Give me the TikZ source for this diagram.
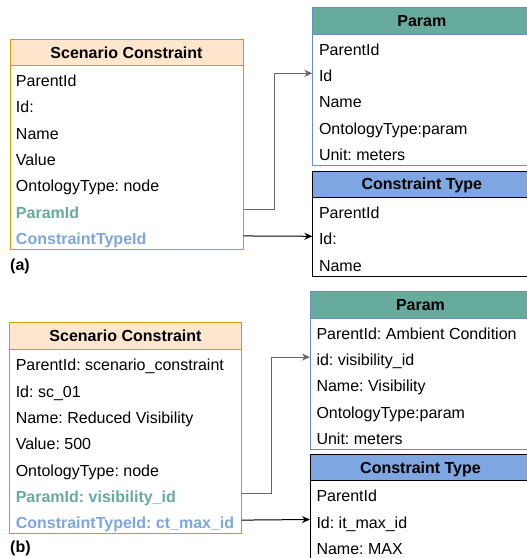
\documentclass[tikz,border=0pt]{standalone}
\usepackage{fontspec}
\setmainfont{Liberation Sans}
\usetikzlibrary{arrows.meta}
\frenchspacing
\definecolor{scfill}{HTML}{FFE6CC}
\definecolor{scstroke}{HTML}{D79B00}
\definecolor{pgreen}{HTML}{67AB9F}
\definecolor{pstroke}{HTML}{6C8EBF}
\definecolor{ctblue}{HTML}{7EA6E0}
\definecolor{conngray}{HTML}{666666}
\begin{document}
\frenchspacing
\begin{tikzpicture}[x=1bp,y=-1bp,
  every node/.style={font=\fontsize{16bp}{18bp}\selectfont},
  body/.style={draw, fill=white, line width=1bp, anchor=north west, inner sep=0pt},
  hdr/.style={draw, line width=1bp, anchor=north west, inner sep=0pt, text height=11.5bp, text depth=0pt, font=\fontsize{16bp}{18bp}\selectfont\bfseries},
  row/.style={anchor=west, inner sep=0pt, text height=20bp, text depth=3bp},
  keyrow/.style={row, font=\fontsize{16bp}{18bp}\selectfont\bfseries},
  conn/.style={line width=1bp, -{Stealth[length=8bp,width=7bp]}},
  tag/.style={anchor=west, inner sep=0pt, font=\fontsize{16bp}{18bp}\selectfont\bfseries}
]
\useasboundingbox (0,0) rectangle (527,558);
\clip (0,0) rectangle (527,558);

% ---------------- (a) ----------------
\node[body, draw=scstroke, minimum width=233bp, minimum height=184bp] (sca) at (9.5,65) {};
\node[hdr, fill=scfill, draw=scstroke, minimum width=233bp, minimum height=26bp] (scah) at (9.5,39) {Scenario Constraint};
\node[row] (sca1) at (15.8,78.15) {ParentId};
\node[row] (sca2) at (15.8,104.45) {Id:};
\node[row] (sca3) at (15.8,130.75) {Name};
\node[row] (sca4) at (15.8,157.05) {Value};
\node[row] (sca5) at (15.8,183.35) {OntologyType: node};
\node[keyrow, text=pgreen] (sca6) at (15.8,209.65) {ParamId};
\node[keyrow, text=ctblue] (sca7) at (15.8,235.95) {ConstraintTypeId};
\node[tag] (laba) at (10,266) {(a)};

\node[body, draw=pstroke, minimum width=218bp, minimum height=131bp] (paa) at (312.3,34) {};
\node[hdr, fill=pgreen, draw=pstroke, minimum width=218bp, minimum height=26.7bp] (paah) at (312.3,7.3) {Param};
\node[row] (paa1) at (318.8,47.1) {ParentId};
\node[row] (paa2) at (318.8,73.3) {Id};
\node[row] (paa3) at (318.8,99.5) {Name};
\node[row] (paa4) at (318.8,125.7) {OntologyType:param};
\node[row] (paa5) at (318.8,151.9) {Unit: meters};

\node[body, draw=black, minimum width=218bp, minimum height=79.3bp] (cta) at (312.3,196.7) {};
\node[hdr, fill=ctblue, draw=black, minimum width=218bp, minimum height=26bp] (ctah) at (312.3,170.7) {Constraint Type};
\node[row] (cta1) at (318.8,209.9) {ParentId};
\node[row] (cta2) at (318.8,236.3) {Id:};
\node[row] (cta3) at (318.8,262.7) {Name};

\draw[conn, draw=conngray] (sca6.center -| sca.east) -- ++(30.5,0) |- (paa2.center -| paa.west);
\draw[conn] (sca7.center -| sca.east) -- (cta2.center -| cta.west);

% ---------------- (b) ----------------
\node[body, draw=scstroke, minimum width=231.4bp, minimum height=184.3bp] (scb) at (9.3,349) {};
\node[hdr, fill=scfill, draw=scstroke, minimum width=231.4bp, minimum height=26.7bp] (scbh) at (9.3,322.3) {Scenario Constraint};
\node[row] (scb1) at (15.6,362.2) {ParentId: scenario\_constraint};
\node[row] (scb2) at (15.6,388.5) {Id: sc\_01};
\node[row] (scb3) at (15.6,414.8) {Name: Reduced Visibility};
\node[row] (scb4) at (15.6,441.2) {Value: 500};
\node[row] (scb5) at (15.6,467.5) {OntologyType: node};
\node[keyrow, text=pgreen] (scb6) at (15.6,493.8) {ParamId: visibility\_id};
\node[keyrow, text=ctblue] (scb7) at (15.6,520.1) {ConstraintTypeId: ct\_max\_id};
\node[tag] (labb) at (10,548) {(b)};

\node[body, draw=pstroke, minimum width=220bp, minimum height=131.3bp] (pab) at (310,317.7) {};
\node[hdr, fill=pgreen, draw=pstroke, minimum width=220bp, minimum height=26.7bp] (pabh) at (310,291) {Param};
\node[row] (pab1) at (316.3,330.8) {ParentId: Ambient Condition};
\node[row] (pab2) at (316.3,357.1) {id: visibility\_id};
\node[row] (pab3) at (316.3,383.3) {Name: Visibility};
\node[row] (pab4) at (316.3,409.6) {OntologyType:param};
\node[row] (pab5) at (316.3,435.9) {Unit: meters};

\node[body, draw=black, minimum width=220bp, minimum height=80bp] (ctb) at (310,480) {};
\node[hdr, fill=ctblue, draw=black, minimum width=220bp, minimum height=26bp] (ctbh) at (310,454) {Constraint Type};
\node[row] (ctb1) at (316.3,493.2) {ParentId};
\node[row] (ctb2) at (316.3,519.5) {Id: it\_max\_id};
\node[row] (ctb3) at (316.3,545.8) {Name: MAX};

\draw[conn, draw=conngray] (scb6.center -| scb.east) -- ++(30,0) |- (pab2.center -| pab.west);
\draw[conn] (scb7.center -| scb.east) -- (ctb2.center -| ctb.west);
\end{tikzpicture}
\end{document}
